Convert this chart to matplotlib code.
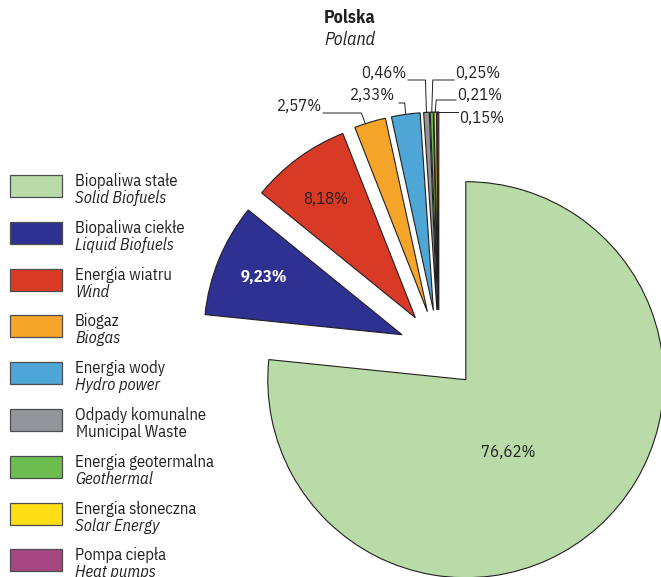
import math
import matplotlib
matplotlib.use("Agg")
import matplotlib.pyplot as plt
from matplotlib.patches import Rectangle
from matplotlib.lines import Line2D

# ---- data ----
labels_pl = ["Biopaliwa stałe", "Biopaliwa ciekłe", "Energia wiatru", "Biogaz",
             "Energia wody", "Odpady komunalne", "Energia geotermalna",
             "Energia słoneczna", "Pompa ciepła"]
labels_en = ["Solid Biofuels", "Liquid Biofuels", "Wind", "Biogas", "Hydro power",
             "Municipal Waste", "Geothermal", "Solar Energy", "Heat pumps"]
values = [76.62, 9.23, 8.18, 2.57, 2.33, 0.46, 0.25, 0.21, 0.15]
value_text = ["76,62%", "9,23%", "8,18%", "2,57%", "2,33%", "0,46%", "0,25%", "0,21%", "0,15%"]
colors = ["#b8dba8", "#2e3192", "#d93a26", "#f6a52b", "#4da6d5",
          "#939598", "#6bbd50", "#ffde17", "#a4467f"]

FONT = ["IBM Plex Sans Condensed", "DejaVu Sans"]
FS = 12
W, H = 661, 577

fig = plt.figure(figsize=(W / 100, H / 100), dpi=100)
ax = fig.add_axes([0, 0, 1, 1])

R = 198
wedges, _ = ax.pie(values, colors=colors, startangle=90, counterclock=False,
                   radius=R, center=(439, H - 350), explode=[40] * len(values),
                   wedgeprops=dict(edgecolor="#231f20", linewidth=0.8))
ax.set_xlim(0, W)
ax.set_ylim(0, H)
ax.set_aspect("equal")
ax.axis("off")

def py(y):
    return H - y

def arc_point(w, ang=None):
    if ang is None:
        ang = 0.5 * (w.theta1 + w.theta2)
    cx, cy = w.center
    return cx + w.r * math.cos(math.radians(ang)), cy + w.r * math.sin(math.radians(ang))

# inner labels
ax.text(508, py(452), value_text[0], fontsize=FS, family=FONT, color="#231f20",
        ha="center", va="center")
ax.text(264, py(277), value_text[1], fontsize=FS, family=FONT, color="white",
        fontweight="bold", ha="center", va="center")
ax.text(326, py(199), value_text[2], fontsize=FS, family=FONT, color="#231f20",
        ha="center", va="center")

# outer labels with leader lines: (index, elbow_y, text_x, text_y, ha)
lead = [
    (3, 113, 322, 106, "right"),
    (4, 103, 395, 95, "right"),
    (5, 80, 407, 73, "right"),
    (6, 80, 455, 73, "left"),
    (7, 100, 457, 95, "left"),
    (8, 112, 459, 118, "left"),
]
for idx, ey, tx, ty, ha in lead:
    w = wedges[idx]
    ang = 0.5 * (w.theta1 + w.theta2)
    if idx == 3:
        ang = w.theta1 + 0.65 * (w.theta2 - w.theta1)
    axp, ayp = arc_point(w, ang)
    if idx == 3:
        xs = [axp, axp - 4, tx + 1]
        ys = [ayp, py(ey), py(ey)]
    elif idx == 4:
        xs = [axp, axp - 1, tx + 4]
        ys = [ayp, py(ey), py(ey)]
    elif idx == 8:
        xs = [axp, tx - 1]
        ys = [ayp, ayp]
    else:
        ex = axp + (1 if ha == "left" else -1)
        xs = [axp, ex, tx + (-1 if ha == "left" else 1)]
        ys = [ayp, py(ey), py(ey)]
    ax.add_line(Line2D(xs, ys, color="#231f20", linewidth=0.7))
    ax.text(tx, py(ty), value_text[idx], fontsize=FS, family=FONT, color="#231f20",
            ha=ha, va="center")

# title
ax.text(350, py(18), "Polska", fontsize=13, family=FONT, fontweight="bold",
        color="#231f20", ha="center", va="center")
ax.text(350, py(40), "Poland", fontsize=13, family=FONT, style="italic",
        color="#231f20", ha="center", va="center")

# legend
top0 = 175
step = 46.8
for i in range(len(values)):
    top = top0 + i * step
    ax.add_patch(Rectangle((10, py(top + 22)), 52, 22, facecolor=colors[i],
                           edgecolor="#4d4d4f", linewidth=0.9))
    ax.text(75, py(top + 6), labels_pl[i], fontsize=FS, family=FONT,
            color="#231f20", ha="left", va="center")
    st = "normal" if i == 5 else "italic"
    ax.text(75 if i != 5 else 76, py(top + 23), labels_en[i], fontsize=FS, family=FONT,
            style=st, color="#231f20", ha="left", va="center")

fig.savefig("out.png", dpi=100)
